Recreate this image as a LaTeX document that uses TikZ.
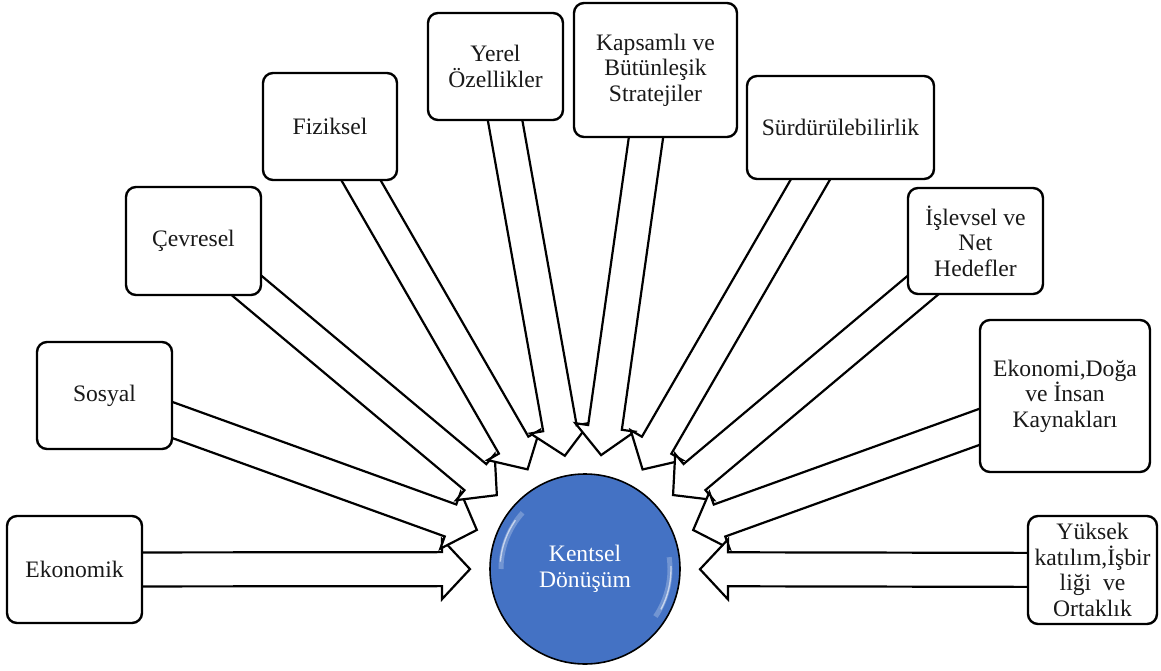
\documentclass[tikz,border=0pt]{standalone}
\usepackage{fontspec}
\setmainfont{Liberation Serif}
\usetikzlibrary{calc,backgrounds}
\definecolor{circblue}{RGB}{68,114,196}
\definecolor{txt}{RGB}{25,25,25}
\begin{document}
\begin{tikzpicture}[x=1pt,y=-1pt,
  box/.style={draw=black, line width=2.4pt, rounded corners=10pt, fill=white,
    align=center, font=\fontsize{23.6}{25.5}\selectfont, text=txt, inner sep=0pt},
  arr/.style={draw=black, line width=2.2pt, fill=white, line join=miter},
  hub/.style={circle, draw=black, line width=1.6pt, fill=circblue, text=white,
    align=center, font=\fontsize{23.6}{25.5}\selectfont, inner sep=0pt, minimum size=190pt}]
\useasboundingbox (0,0) rectangle (1161,671);

\node[box, minimum width=135pt, minimum height=107pt] (eko) at (74.5,569.5) {Ekonomik};
\node[box, minimum width=135pt, minimum height=107pt] (sos) at (104.5,395.5) {Sosyal};
\node[box, minimum width=135pt, minimum height=108pt] (cev) at (193.5,241) {Çevresel};
\node[box, minimum width=134pt, minimum height=107pt] (fiz) at (330,126.5) {Fiziksel};
\node[box, minimum width=135pt, minimum height=107pt] (yer) at (495.5,66.5) {Yerel\\Özellikler};
\node[box, minimum width=163pt, minimum height=134pt] (kap) at (655.5,70) {Kapsamlı ve\\Bütünleşik\\Stratejiler};
\node[box, minimum width=187pt, minimum height=103pt] (sur) at (840.5,127.5) {Sürdürülebilirlik};
\node[box, minimum width=135pt, minimum height=106pt] (isl) at (975.5,241) {İşlevsel ve\\Net\\Hedefler};
\node[box, minimum width=170pt, minimum height=152pt] (ekd) at (1065,396) {Ekonomi,Doğa\\ve İnsan\\Kaynakları};
\node[box, minimum width=129pt, minimum height=108pt] (yuk) at (1092.5,570) {Yüksek\\katılım,İşbir\\liği~~ve\\Ortaklık};

\node[hub] (kd) at (585,569) {Kentsel\\Dönüşüm};
\draw[white, opacity=0.25, line width=5pt] ([shift={(138:84pt)}]kd.center) arc[start angle=138, end angle=180, radius=84pt];
\draw[white, opacity=0.6, line width=1.4pt] ([shift={(145:85pt)}]kd.center) arc[start angle=145, end angle=175, radius=85pt];
\draw[white, opacity=0.25, line width=5pt] ([shift={(-34:85pt)}]kd.center) arc[start angle=-34, end angle=8, radius=85pt];
\draw[white, opacity=0.6, line width=1.4pt] ([shift={(-28:86pt)}]kd.center) arc[start angle=-28, end angle=2, radius=86pt];

\begin{scope}[on background layer]
\fill[white] (0,0) rectangle (1161,671);
\foreach \b in {eko,sos,cev,fiz,yer,kap,sur,isl,ekd,yuk}{
  \path ($(kd.center)!115pt!(\b.center)$) coordinate (T)
        ($(kd.center)!143pt!(\b.center)$) coordinate (H);
  \draw[arr] ($(\b.center)!17pt!90:(kd.center)$) -- ($(H)!17pt!90:(kd.center)$)
     -- ($(H)!30pt!90:(kd.center)$) -- (T) -- ($(H)!30pt!-90:(kd.center)$)
     -- ($(H)!17pt!-90:(kd.center)$) -- ($(\b.center)!17pt!-90:(kd.center)$) -- cycle;
}
\end{scope}
\end{tikzpicture}
\end{document}
